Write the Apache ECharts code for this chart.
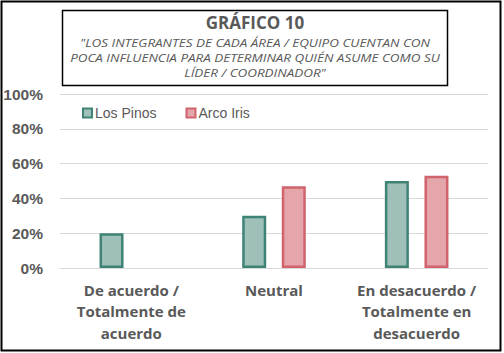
<!DOCTYPE html>
<html>
<head>
<meta charset="utf-8">
<script src="https://cdn.jsdelivr.net/npm/echarts@6/dist/echarts.min.js"></script>
<style>
  html, body { margin: 0; padding: 0; background: #fff; }
  #chart { width: 504px; height: 353px; }
</style>
</head>
<body>
<div id="chart"></div>
<script>
var categories = ['De acuerdo /\nTotalmente de\nacuerdo', 'Neutral', 'En desacuerdo /\nTotalmente en\ndesacuerdo'];
var seriesNames = ['Los Pinos', 'Arco Iris'];
var losPinos = [20, 30, 50];
var arcoIris = [null, 47, 53];
var yTicks = [0, 20, 40, 60, 80, 100];

var titleMain = 'GRÁFICO 10';
var titleSub = '"LOS INTEGRANTES DE CADA ÁREA / EQUIPO CUENTAN CON\nPOCA INFLUENCIA PARA DETERMINAR QUIÉN ASUME COMO SU\nLÍDER / COORDINADOR"';

var grey = '#595959';
var gridLine = '#d9d9d9';

var chart = echarts.init(document.getElementById('chart'), null, { renderer: 'svg' });
chart.setOption({
  animation: false,
  backgroundColor: '#fff',
  graphic: [
    {
      type: 'rect',
      shape: { x: 1.5, y: 1.5, width: 499, height: 349 },
      style: { fill: 'none', stroke: '#000', lineWidth: 2 }
    },
    {
      type: 'rect',
      shape: { x: 62.5, y: 10.5, width: 385, height: 75 },
      style: { fill: '#fff', stroke: '#000', lineWidth: 1.5 }
    },
    {
      type: 'text',
      x: 255, y: 22,
      style: {
        text: titleMain, fill: grey, align: 'center', verticalAlign: 'middle',
        font: 'bold 17px "Open Sans"'
      }
    },
    {
      // subtitle is letter-spaced in the original, approximate with a horizontal stretch
      type: 'text',
      x: 255, y: 58,
      scaleX: 1.17,
      style: {
        text: titleSub, fill: grey, align: 'center', verticalAlign: 'middle',
        font: 'italic 11.5px "Open Sans"', lineHeight: 15
      }
    }
  ],
  legend: {
    data: seriesNames,
    left: 77, top: 101,
    itemWidth: 9, itemHeight: 9,
    itemGap: 29,
    icon: 'rect',
    textStyle: { color: grey, fontSize: 14, fontFamily: 'Liberation Sans', padding: [0, 0, 0, -2] }
  },
  grid: { left: 60, right: 16, top: 94, bottom: 85 },
  xAxis: {
    type: 'category',
    data: categories,
    axisLine: { show: true, lineStyle: { color: gridLine, width: 1 } },
    axisTick: { show: false },
    axisLabel: {
      color: grey, fontSize: 15, fontWeight: 'bold', fontFamily: 'Open Sans',
      lineHeight: 21.5, margin: 11, interval: 0
    }
  },
  yAxis: {
    type: 'value',
    min: yTicks[0], max: yTicks[yTicks.length - 1], interval: 20,
    axisLine: { show: false },
    axisTick: { show: false },
    splitLine: { lineStyle: { color: gridLine, width: 1 } },
    axisLabel: {
      color: grey, fontSize: 15.5, fontWeight: 'bold', fontFamily: 'Liberation Sans',
      margin: 17, formatter: '{value}%'
    }
  },
  series: [
    {
      name: seriesNames[0],
      type: 'bar',
      data: losPinos,
      barWidth: 24,
      barGap: '65%',
      itemStyle: { color: '#9fc0b9', borderColor: '#3e8376', borderWidth: 2.5 }
    },
    {
      name: seriesNames[1],
      type: 'bar',
      data: arcoIris,
      barWidth: 24,
      itemStyle: { color: '#e4a5ab', borderColor: '#d0636c', borderWidth: 2.5 }
    }
  ]
});
</script>
</body>
</html>
